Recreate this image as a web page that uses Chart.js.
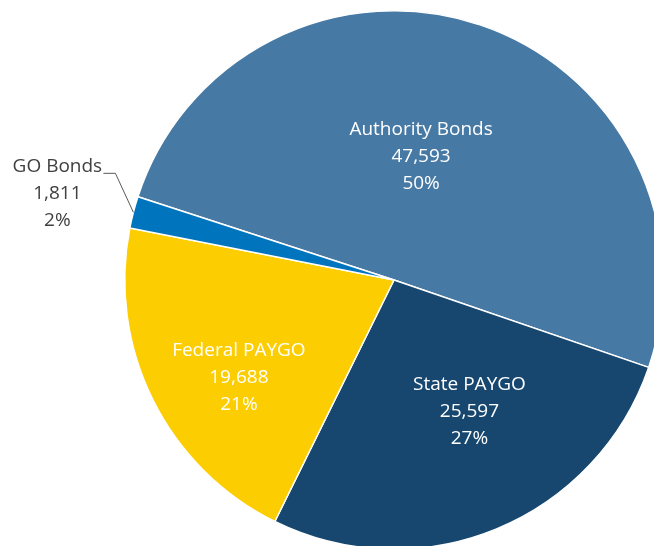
<!DOCTYPE html>
<html>
<head>
<meta charset="utf-8">
<title>Funding Sources</title>
<script src="https://cdn.jsdelivr.net/npm/chart.js@4/dist/chart.umd.min.js"></script>
<style>
  html, body { margin: 0; padding: 0; background: #fff; overflow: hidden; }
  #wrap { position: absolute; left: 0; top: 0; width: 800px; height: 620px; }
</style>
</head>
<body>
<div id="wrap"><canvas id="pie" width="800" height="620"></canvas></div>
<script>
// funding sources, in the order they run clockwise
const categories = ["Authority Bonds", "State PAYGO", "Federal PAYGO", "GO Bonds"];
const amounts = [47593, 25597, 19688, 1811];
const sliceColors = ["#4779a5", "#17476f", "#fccd00", "#0075be"];

// label placement: fraction of radius along mid-angle, plus a small nudge in px
const labelSpots = [
  { f: 0.47, dx: -13, dy: -3 },
  { f: 0.56, dx: 18, dy: -8 },
  { f: 0.68, dx: 9, dy: 16 },
  null // GO Bonds gets an outside label with a leader line
];

const total = amounts.reduce((a, b) => a + b, 0);
const fmt = (v) => v.toLocaleString("en-US");
const pct = (v) => Math.round((v / total) * 100) + "%";

const FONT = '19px "Open Sans", sans-serif';
const LINE_H = 27;

function drawBlock(ctx, lines, x, y, color) {
  ctx.fillStyle = color;
  const top = y - ((lines.length - 1) * LINE_H) / 2;
  lines.forEach((t, i) => ctx.fillText(t, x, top + i * LINE_H));
}

const sliceLabels = {
  id: "sliceLabels",
  afterDatasetsDraw(chart) {
    const ctx = chart.ctx;
    const meta = chart.getDatasetMeta(0);
    ctx.save();
    ctx.font = FONT;
    ctx.textAlign = "center";
    ctx.textBaseline = "middle";
    meta.data.forEach((arc, i) => {
      const p = arc.getProps(["x", "y", "startAngle", "endAngle", "outerRadius"], true);
      const mid = (p.startAngle + p.endAngle) / 2;
      const lines = [categories[i], fmt(amounts[i]), pct(amounts[i])];
      const spot = labelSpots[i];
      if (spot) {
        const r = p.outerRadius * spot.f;
        const x = p.x + Math.cos(mid) * r + spot.dx;
        const y = p.y + Math.sin(mid) * r + spot.dy;
        drawBlock(ctx, lines, x, y, "#ffffff");
      } else {
        // leader line from the slice edge out to the left
        const ex = p.x + Math.cos(mid) * p.outerRadius;
        const ey = p.y + Math.sin(mid) * p.outerRadius;
        const kx = ex - 18, ky = ey - 39;
        const lx = kx - 12;
        ctx.strokeStyle = "#595959";
        ctx.lineWidth = 1;
        ctx.beginPath();
        ctx.moveTo(ex, ey);
        ctx.lineTo(kx, ky);
        ctx.lineTo(lx, ky);
        ctx.stroke();
        drawBlock(ctx, lines, lx - 46, ky + 20, "#404040");
      }
    });
    ctx.restore();
  }
};

new Chart(document.getElementById("pie"), {
  type: "pie",
  data: {
    labels: categories,
    datasets: [{
      data: amounts,
      backgroundColor: sliceColors,
      borderColor: "#ffffff",
      borderWidth: 1.5
    }]
  },
  options: {
    responsive: false,
    animation: false,
    rotation: 288,
    layout: { padding: { left: 124, top: 10, right: 136, bottom: 70 } },
    plugins: {
      legend: { display: false },
      tooltip: { enabled: false }
    }
  },
  plugins: [sliceLabels]
});
</script>
</body>
</html>
